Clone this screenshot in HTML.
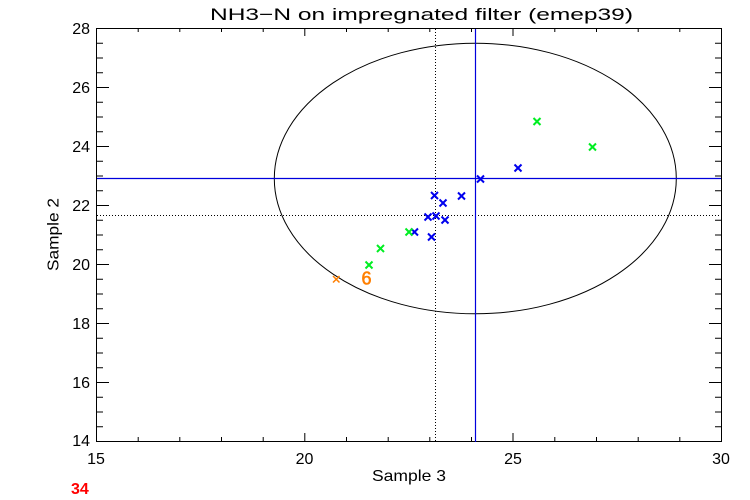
<!DOCTYPE html>
<html>
<head>
<meta charset="utf-8">
<style>
html,body{margin:0;padding:0;background:#fff;}
svg{display:block;}
text{font-family:"Liberation Sans","DejaVu Sans",sans-serif;}
</style>
</head>
<body>
<svg width="750" height="500" viewBox="0 0 750 500" xmlns="http://www.w3.org/2000/svg">
<rect width="750" height="500" fill="#fff"/>

<!-- title -->
<text x="210" y="20" font-size="17" textLength="423" lengthAdjust="spacingAndGlyphs" fill="#000">NH3−N on impregnated filter (emep39)</text>

<!-- axes box -->
<rect x="96.5" y="28.5" width="625" height="413" fill="none" stroke="#000" stroke-width="1"/>

<!-- ticks -->
<g stroke="#000" stroke-width="1">
<path d="M304.8 441V433 M513 441V433 M304.8 28V36 M513 28V36"/>
<path d="M138.2 441V437 M179.8 441V437 M221.5 441V437 M263.2 441V437 M346.5 441V437 M388.2 441V437 M429.8 441V437 M471.5 441V437 M554.8 441V437 M596.5 441V437 M638.2 441V437 M679.8 441V437"/>
<path d="M138.2 28V32 M179.8 28V32 M221.5 28V32 M263.2 28V32 M346.5 28V32 M388.2 28V32 M429.8 28V32 M471.5 28V32 M554.8 28V32 M596.5 28V32 M638.2 28V32 M679.8 28V32"/>
<path d="M96 87.5H109 M96 146.5H109 M96 205.5H109 M96 264.5H109 M96 323.5H109 M96 382.5H109"/>
<path d="M722 87.5H709 M722 146.5H709 M722 205.5H709 M722 264.5H709 M722 323.5H709 M722 382.5H709"/>
<path d="M96 43.25H103 M96 58H103 M96 72.75H103 M96 102.25H103 M96 117H103 M96 131.75H103 M96 161.25H103 M96 176H103 M96 190.75H103 M96 220.25H103 M96 235H103 M96 249.75H103 M96 279.25H103 M96 294H103 M96 308.75H103 M96 338.25H103 M96 353H103 M96 367.75H103 M96 397.25H103 M96 412H103 M96 426.75H103"/>
<path d="M722 43.25H715 M722 58H715 M722 72.75H715 M722 102.25H715 M722 117H715 M722 131.75H715 M722 161.25H715 M722 176H715 M722 190.75H715 M722 220.25H715 M722 235H715 M722 249.75H715 M722 279.25H715 M722 294H715 M722 308.75H715 M722 338.25H715 M722 353H715 M722 367.75H715 M722 397.25H715 M722 412H715 M722 426.75H715"/>
</g>

<!-- y tick labels -->
<g font-size="16" fill="#000" text-anchor="end">
<text x="90" y="34">28</text>
<text x="90" y="93">26</text>
<text x="90" y="152">24</text>
<text x="90" y="211">22</text>
<text x="90" y="270">20</text>
<text x="90" y="329">18</text>
<text x="90" y="388">16</text>
<text x="90" y="446">14</text>
</g>
<!-- x tick labels -->
<g font-size="16" fill="#000" text-anchor="middle">
<text x="96" y="464">15</text>
<text x="304.5" y="464">20</text>
<text x="513" y="464">25</text>
<text x="721" y="464">30</text>
</g>

<!-- axis titles -->
<text x="372" y="481" font-size="16" textLength="74" lengthAdjust="spacingAndGlyphs" fill="#000">Sample 3</text>
<text transform="translate(58.5,271) rotate(-90)" x="0" y="0" font-size="16" textLength="73" lengthAdjust="spacingAndGlyphs" fill="#000">Sample 2</text>

<!-- dotted lines -->
<g stroke="#000" stroke-width="1" stroke-dasharray="1,2" fill="none">
<path d="M435.5 29V441"/>
<path d="M97 215.5H721"/>
</g>

<!-- ellipse -->
<ellipse cx="475.3" cy="178.5" rx="201" ry="135.3" fill="none" stroke="#000" stroke-width="1"/>

<!-- blue lines -->
<g stroke="#0000dd" stroke-width="1.2" fill="none">
<path d="M475.5 29V442"/>
<path d="M97 178.5H721"/>
</g>

<!-- blue markers -->
<g stroke="#0000ee" stroke-width="2" fill="none">
<path d="M514.5 164.5l7 7m0 -7l-7 7"/>
<path d="M477 175.5l7 7m0 -7l-7 7"/>
<path d="M431 192l7 7m0 -7l-7 7"/>
<path d="M439.5 199.5l7 7m0 -7l-7 7"/>
<path d="M458 192.5l7 7m0 -7l-7 7"/>
<path d="M424.5 213.5l7 7m0 -7l-7 7"/>
<path d="M432.5 212.5l7 7m0 -7l-7 7"/>
<path d="M441.5 216.5l7 7m0 -7l-7 7"/>
<path d="M411 228.5l7 7m0 -7l-7 7"/>
<path d="M428 233.5l7 7m0 -7l-7 7"/>
</g>

<!-- green markers -->
<g stroke="#00ee22" stroke-width="2" fill="none">
<path d="M533.5 118l7 7m0 -7l-7 7"/>
<path d="M589 143.5l7 7m0 -7l-7 7"/>
<path d="M405.5 228.5l7 7m0 -7l-7 7"/>
<path d="M377 245l7 7m0 -7l-7 7"/>
<path d="M365.5 261.5l7 7m0 -7l-7 7"/>
</g>

<!-- orange -->
<g stroke="#ff7f00" stroke-width="1.5" fill="none">
<path d="M333 276l6.5 6.5m0 -6.5l-6.5 6.5"/>
</g>
<text x="366.5" y="284.5" font-size="18" fill="#ff7f00" stroke="#ff7f00" stroke-width="0.6" text-anchor="middle">6</text>

<!-- red label -->
<text x="71" y="494" font-size="16" font-weight="bold" fill="#ff0000">34</text>
</svg>
</body>
</html>
